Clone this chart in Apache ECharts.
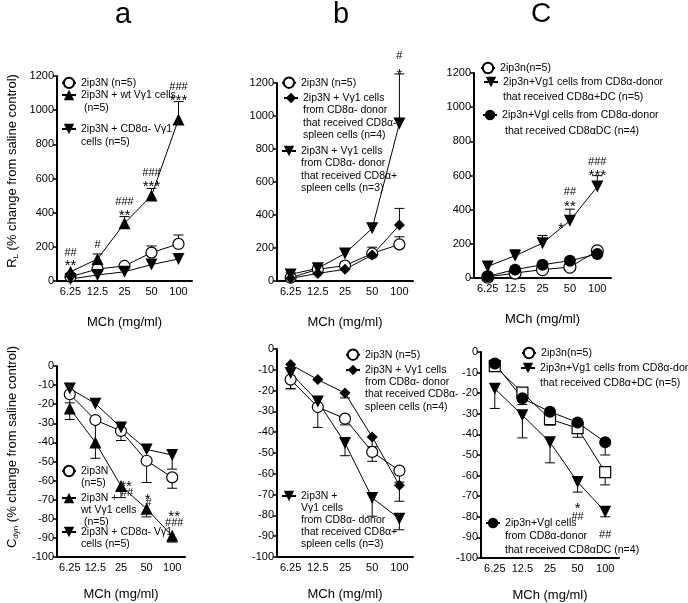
<!DOCTYPE html>
<html><head><meta charset="utf-8">
<script src="https://cdn.jsdelivr.net/npm/echarts@6/dist/echarts.min.js"></script>
<style>html,body{margin:0;padding:0;background:#fff}#c{width:688px;height:603px}</style>
</head><body><div id="c"></div>
<script>
// ---------- data ----------
const categories = ['6.25', '12.5', '25', '50', '100'];
const rlTicks = [0, 1200, 200];      // min, max, interval
const cdynTicks = [-100, 0, 10];

// Panel a, R_L
const aTop_ip3N = [25, 70, 88, 166, 217];
const aTop_ip3N_err = [null, 95, null, 205, 269];
const aTop_wt = [54, 129, 338, 500, 946];
const aTop_wt_err = [null, 158, 377, 542, 1050];
const aTop_cd8neg = [12, 35, 54, 96, 129];
const aTop_ann = [[0, 113, '**'], [0, 166, '##'], [1, 212, '#'], [2, 406, '**'], [2, 464, '###'], [3, 572, '***'], [3, 630, '###'], [4, 1075, '***'], [4, 1137, '###']];

// Panel b, R_L
const bTop_ip3N = [20, 71, 93, 167, 222];
const bTop_ip3N_err = [null, null, null, 205, 268];
const bTop_negSpl = [16, 46, 71, 157, 339];
const bTop_negSpl_err = [null, null, null, null, 440];
const bTop_posSpl = [40, 77, 167, 319, 954];
const bTop_posSpl_err = [50, 95, null, 349, 1255];
const bTop_ann = [[4, 1273, '*'], [4, 1361, '#']];

// Panel c, R_L
const cTop_ip3n = [6, 29, 49, 64, 159];
const cTop_posDC = [68, 130, 204, 335, 535];
const cTop_posDC_err = [null, 165, 249, 403, 599];
const cTop_negDC = [10, 49, 78, 101, 140];
const cTop_ann = [[3, 311, '*'], [3, 438, '**'], [3, 506, '##'], [4, 622, '***'], [4, 681, '###']];

// Panel a, Cdyn
const aBot_ip3N = [-14.8, -28.3, -34, -49.6, -58.3];
const aBot_ip3N_err = [-19.3, -42, -39, -61, -64];
const aBot_wt = [-22.3, -40, -62.8, -74.8, -88.9];
const aBot_wt_err = [-28, -48.3, -68.9, -79, -92.2];
const aBot_cd8neg = [-11.8, -19.7, -32.2, -43.7, -46.6];
const aBot_cd8neg_err = [null, null, null, null, -54];
const aBot_ann = [[2, -61, '**'], [2, -66.3, '##'], [3, -67.8, '*'], [3, -71.5, '#'], [4, -77, '**'], [4, -82.3, '###']];

// Panel b, Cdyn
const bBot_ip3N = [-14.7, -27.9, -33.5, -49.5, -58.5];
const bBot_ip3N_err = [-19.2, null, -36.5, -54, -64];
const bBot_negSpl = [-7.5, -14.7, -21.2, -42.3, -65.5];
const bBot_negSpl_err = [null, null, -23.5, -47, -73.2];
const bBot_posSpl = [-11.5, -25.2, -45.2, -71.6, -81.6];
const bBot_posSpl_err = [-19, -37.7, -51.3, -80.4, -86.9];

// Panel c, Cdyn
const cBot_ip3n = [-6.9, -19.7, -32.6, -37, -58.3];
const cBot_ip3n_err = [null, null, -35.5, -41.4, -64.5];
const cBot_posDC = [-17.8, -30.7, -43.8, -63.1, -77.5];
const cBot_posDC_err = [-27.4, -41.7, -53.8, -68, -80];
const cBot_negDC = [-5.6, -22.5, -29, -34.2, -43.8];
const cBot_negDC_err = [null, -25.5, null, null, -50];
const cBot_ann = [[3, -74.3, '*'], [3, -79.9, '##'], [4, -89, '##']];

// ---------- styling / layout ----------
const FR = '"Liberation Sans", Arial, sans-serif';
const TRI_DOWN = 'path://M0,0L10,0L5,9Z';
const TRI_UP = 'path://M5,0L10,9L0,9Z';
const DIAMOND = 'path://M5,0L10,5L5,10L0,5Z';

const grids = [
  {left: 57, top: 76, width: 135, height: 205},
  {left: 277, top: 83, width: 136, height: 198},
  {left: 474, top: 73, width: 137, height: 205},
  {left: 57, top: 366, width: 128, height: 191},
  {left: 277, top: 349, width: 136, height: 208},
  {left: 481, top: 352, width: 138, height: 208}
];

const xAxes = grids.map((g, i) => ({
  type: 'category', gridIndex: i, data: categories, boundaryGap: true, position: 'bottom',
  name: 'MCh (mg/ml)', nameLocation: 'middle', nameGap: i < 3 ? 35 : 31,
  nameTextStyle: {fontFamily: FR, fontSize: 13, color: '#000'},
  axisLine: {onZero: false, lineStyle: {color: '#000', width: 2}},
  axisTick: {show: false},
  axisLabel: {color: '#000', fontFamily: FR, fontSize: 11, margin: 5, interval: 0}
}));
const yAxes = grids.map((g, i) => {
  const t = i < 3 ? rlTicks : cdynTicks;
  return {
    type: 'value', gridIndex: i, min: t[0], max: t[1], interval: t[2],
    splitLine: {show: false},
    axisLine: {show: true, onZero: false, lineStyle: {color: '#000', width: 2}},
    axisTick: {show: true, length: 4, lineStyle: {color: '#000', width: 1.5}},
    axisLabel: {color: '#000', fontFamily: FR, fontSize: 11, margin: 3, formatter: v => String(v)}
  };
});

function lineSeries(name, gi, vals, symbol, open, size, itemSymbol) {
  return {
    type: 'line', name, xAxisIndex: gi, yAxisIndex: gi,
    data: itemSymbol ? vals.map(v => ({value: v, symbol: itemSymbol})) : vals,
    symbol, symbolSize: size, showAllSymbol: true, color: '#000',
    lineStyle: {color: '#000', width: 1},
    itemStyle: open ? {color: '#fff', borderColor: '#000', borderWidth: 1.2} : {color: '#000', borderColor: '#000', borderWidth: 0},
    emphasis: {disabled: true}, silent: true, z: 3
  };
}
function errRender(params, api) {
  const i = api.value(0), m = api.value(1), e = api.value(2);
  const p = api.coord([i, m]), q = api.coord([i, e]);
  return {type: 'group', children: [
    {type: 'line', shape: {x1: p[0], y1: p[1], x2: q[0], y2: q[1]}, style: {stroke: '#000', lineWidth: 1}},
    {type: 'line', shape: {x1: q[0] - 5, y1: q[1], x2: q[0] + 5, y2: q[1]}, style: {stroke: '#000', lineWidth: 1}}
  ]};
}
function errSeries(gi, vals, errs) {
  const data = [];
  errs.forEach((e, i) => { if (e !== null) data.push([i, vals[i], e]); });
  return {type: 'custom', xAxisIndex: gi, yAxisIndex: gi, data, renderItem: errRender,
          encode: {x: 0, y: [1, 2]}, clip: false, silent: true, z: 2};
}
function annSeries(gi, ann, shifts) {
  return {
    type: 'custom', xAxisIndex: gi, yAxisIndex: gi, clip: false, silent: true, z: 4,
    data: ann.map(a => [a[0], a[1]]), encode: {x: 0, y: 1},
    renderItem: (params, api) => {
      const k = params.dataIndex, txt = ann[k][2], star = txt.indexOf('*') >= 0;
      const p = api.coord([api.value(0), api.value(1)]);
      return {type: 'text', x: p[0] + ((shifts && shifts[k]) || 0), y: p[1] + (star ? 4 : 0),
        style: {text: txt, fill: '#000', font: (star ? '15px ' : '11px ') + FR, align: 'center', verticalAlign: 'middle'}};
    }
  };
}
function legendItem(name, lines, ix, iy, o) {
  const N = lines.length, L = o.L, H = o.H || 13, W = o.W || 14;
  const rt = Math.min(0, H / 2 - (2 * N - 1) * L / 2);
  const padded = new Array(N - 1).fill(' ').concat(lines);   // blank lines keep first line level with the icon
  return {
    data: [name], orient: 'vertical', left: ix - W / 2, top: iy - H / 2 + rt, padding: 0,
    itemWidth: W, itemHeight: H, selectedMode: false,
    formatter: () => padded.join('\n'),
    textStyle: {fontFamily: FR, fontSize: o.fs || 10.5, lineHeight: L, color: '#000'}
  };
}

const series = [
  // a top
  errSeries(0, aTop_ip3N, aTop_ip3N_err), errSeries(0, aTop_wt, aTop_wt_err),
  lineSeries('aT1', 0, aTop_ip3N, 'circle', true, 11),
  lineSeries('aT3', 0, aTop_cd8neg, TRI_DOWN, false, 12),
  lineSeries('aT2', 0, aTop_wt, TRI_UP, false, 12),
  annSeries(0, aTop_ann),
  // b top
  errSeries(1, bTop_ip3N, bTop_ip3N_err), errSeries(1, bTop_negSpl, bTop_negSpl_err), errSeries(1, bTop_posSpl, bTop_posSpl_err),
  lineSeries('bT1', 1, bTop_ip3N, 'circle', true, 11),
  lineSeries('bT2', 1, bTop_negSpl, DIAMOND, false, 11),
  lineSeries('bT3', 1, bTop_posSpl, TRI_DOWN, false, 12),
  annSeries(1, bTop_ann),
  // c top
  errSeries(2, cTop_posDC, cTop_posDC_err),
  lineSeries('cT1', 2, cTop_ip3n, 'circle', true, 12),
  lineSeries('cT3', 2, cTop_negDC, 'circle', false, 12),
  lineSeries('cT2', 2, cTop_posDC, TRI_DOWN, false, 12),
  annSeries(2, cTop_ann, [-9, 0, 0, 0, 0]),
  // a bottom
  errSeries(3, aBot_ip3N, aBot_ip3N_err), errSeries(3, aBot_wt, aBot_wt_err), errSeries(3, aBot_cd8neg, aBot_cd8neg_err),
  lineSeries('aB1', 3, aBot_ip3N, 'circle', true, 11),
  lineSeries('aB3', 3, aBot_cd8neg, TRI_DOWN, false, 12),
  lineSeries('aB2', 3, aBot_wt, TRI_UP, false, 12),
  annSeries(3, aBot_ann, [5, 6, 1, 2, 2, 2]),
  // b bottom
  errSeries(4, bBot_ip3N, bBot_ip3N_err), errSeries(4, bBot_negSpl, bBot_negSpl_err), errSeries(4, bBot_posSpl, bBot_posSpl_err),
  lineSeries('bB1', 4, bBot_ip3N, 'circle', true, 11),
  lineSeries('bB2', 4, bBot_negSpl, DIAMOND, false, 11),
  lineSeries('bB3', 4, bBot_posSpl, TRI_DOWN, false, 12),
  // c bottom
  errSeries(5, cBot_ip3n, cBot_ip3n_err), errSeries(5, cBot_posDC, cBot_posDC_err), errSeries(5, cBot_negDC, cBot_negDC_err),
  lineSeries('cB1', 5, cBot_ip3n, 'circle', true, 11, 'rect'),
  lineSeries('cB2', 5, cBot_posDC, TRI_DOWN, false, 12),
  lineSeries('cB3', 5, cBot_negDC, 'circle', false, 12),
  annSeries(5, cBot_ann)
];

const legends = [
  legendItem('aT1', ['2ip3N (n=5)'], 68, 83, {L: 12.7}),
  legendItem('aT2', ['2ip3N + wt Vγ1 cells', ' (n=5)'], 68, 95, {L: 12.7}),
  legendItem('aT3', ['2ip3N + CD8α- Vγ1', 'cells (n=5)'], 68, 129, {L: 12.7}),
  legendItem('bT1', ['2ip3N (n=5)'], 288, 83, {L: 12.4}),
  legendItem('bT2', ['2ip3N + Vγ1 cells', 'from CD8α- donor', 'that received CD8α-', 'spleen cells (n=4)'], 290, 98, {L: 12.4}),
  legendItem('bT3', ['2ip3N + Vγ1 cells', 'from CD8α- donor', 'that received CD8α+', 'spleen cells (n=3)'], 288, 151, {L: 12.4}),
  legendItem('cT1', ['2ip3n(n=5)'], 487, 68, {L: 15, fs: 10.6}),
  legendItem('cT2', ['2ip3n+Vg1 cells from CD8α-donor', 'that received CD8α+DC (n=5)'], 490, 82, {L: 15, fs: 10.6}),
  legendItem('cT3', ['2ip3n+Vgl cells from CD8α-donor', ' that received CD8αDC (n=4)'], 489, 115, {L: 16, fs: 10.6}),
  legendItem('aB1', ['2ip3N', '(n=5)'], 68, 471, {L: 12}),
  legendItem('aB2', ['2ip3N +', 'wt Vγ1 cells', ' (n=5)'], 68, 498, {L: 12}),
  legendItem('aB3', ['2ip3N + CD8α- Vγ1', 'cells (n=5)'], 68, 532, {L: 12}),
  legendItem('bB1', ['2ip3N (n=5)'], 352, 355, {L: 12.3}),
  legendItem('bB2', ['2ip3N + Vγ1 cells', 'from CD8α- donor', 'that received CD8α-', 'spleen cells (n=4)'], 352, 370, {L: 12.3}),
  legendItem('bB3', ['2ip3N +', 'Vγ1 cells', 'from CD8α- donor', 'that received CD8α+', 'spleen cells (n=3)'], 288, 496, {L: 12}),
  legendItem('cB1', ['2ip3n(n=5)'], 528, 353, {L: 15, fs: 10.6}),
  legendItem('cB2', ['2ip3n+Vg1 cells from CD8α-donor', 'that received CD8α+DC (n=5)'], 527, 368, {L: 15, fs: 10.6}),
  legendItem('cB3', ['2ip3n+Vgl cells', 'from CD8α-donor', 'that received CD8αDC (n=4)'], 492, 523, {L: 13.5, fs: 10.6})
];

const graphic = [
  {type: 'text', x: 123, y: 15, style: {text: 'a', font: '29px ' + FR, fill: '#000', align: 'center', verticalAlign: 'middle'}},
  {type: 'text', x: 341, y: 15, style: {text: 'b', font: '29px ' + FR, fill: '#000', align: 'center', verticalAlign: 'middle'}},
  {type: 'text', x: 541, y: 14, style: {text: 'C', font: '28px ' + FR, fill: '#000', align: 'center', verticalAlign: 'middle'}},
  {type: 'text', x: 12, y: 171, rotation: Math.PI / 2, style: {
    text: '{m|R}{s|L}{m| (% change from saline control)}', align: 'center', verticalAlign: 'middle', fill: '#000',
    rich: {m: {fontFamily: FR, fontSize: 13, lineHeight: 16}, s: {fontFamily: FR, fontSize: 8, lineHeight: 16, verticalAlign: 'bottom'}}}},
  {type: 'text', x: 12, y: 447, rotation: Math.PI / 2, style: {
    text: '{m|C}{s|dyn}{m| (% change from saline control)}', align: 'center', verticalAlign: 'middle', fill: '#000',
    rich: {m: {fontFamily: FR, fontSize: 13, lineHeight: 16}, s: {fontFamily: FR, fontSize: 8, lineHeight: 16, verticalAlign: 'bottom'}}}}
];

const chart = echarts.init(document.getElementById('c'), null, {renderer: 'canvas'});
chart.setOption({
  animation: false, backgroundColor: '#fff',
  grid: grids, xAxis: xAxes, yAxis: yAxes, legend: legends, series, graphic
});
</script></body></html>
